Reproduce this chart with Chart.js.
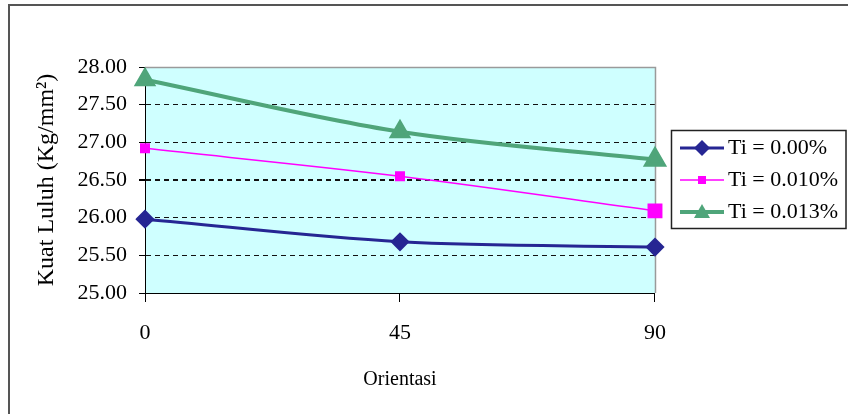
<!DOCTYPE html>
<html>
<head>
<meta charset="utf-8">
<script src="https://cdn.jsdelivr.net/npm/chart.js@4.4.1/dist/chart.umd.min.js"></script>
<style>
	html, body { margin: 0; padding: 0; background: #fff; }
	#wrap { position: relative; width: 848px; height: 414px; }
	#frame { position: absolute; left: 8px; top: 4px; right: 0; bottom: 0; border-left: 2px solid #555; border-top: 2px solid #555; }
	#myChart { position: absolute; left: 0; top: 0; }
</style>
</head>
<body>
<div id="wrap">
	<div id="frame"></div>
	<canvas id="myChart" width="848" height="414"></canvas>
</div>
<script>
// orientasi (derajat)
var orientasi = [0, 45, 90];
var yTicks = [25.00, 25.50, 26.00, 26.50, 27.00, 27.50, 28.00];

var seriesNames = ['Ti = 0.00%', 'Ti = 0.010%', 'Ti = 0.013%'];
var ti000 = [25.98, 25.68, 25.61];
var ti010 = [26.92, 26.55, 26.09];
var ti013 = [27.83, 27.14, 26.77];

var serif = "'Liberation Serif', 'Times New Roman', serif";

function toPoints(vals){
	return vals.map(function(v, i){ return {x: orientasi[i], y: v}; });
}

// line+marker swatch for the legend; the drawn part sits right of the image centre
function swatch(color, lw, shape){
	var c = document.createElement('canvas');
	c.width = 66; c.height = 22;
	var g = c.getContext('2d');
	var x0 = 22, x1 = 66, m = 44;
	g.strokeStyle = color; g.fillStyle = color; g.lineWidth = lw;
	g.beginPath(); g.moveTo(x0, 11); g.lineTo(x1, 11); g.stroke();
	g.beginPath();
	if(shape === 'diamond'){
		g.moveTo(m, 3); g.lineTo(m + 8, 11); g.lineTo(m, 19); g.lineTo(m - 8, 11);
	} else if(shape === 'square'){
		g.rect(m - 4, 7, 8, 8);
	} else {
		g.moveTo(m, 3); g.lineTo(m + 8, 17); g.lineTo(m - 8, 17);
	}
	g.closePath(); g.fill();
	return c;
}

var colors = ['#262693', '#FF00FF', '#4FA57A'];
var swatches = [swatch(colors[0], 3, 'diamond'), swatch(colors[1], 1.5, 'square'), swatch(colors[2], 4, 'triangle')];

var plotBg = {
	id: 'plotBg',
	beforeDraw: function(chart){
		var a = chart.chartArea, ctx = chart.ctx;
		ctx.save();
		ctx.fillStyle = '#CFFFFF';
		ctx.fillRect(a.left, a.top, a.right - a.left, a.bottom - a.top);
		ctx.restore();
	},
	beforeDatasetsDraw: function(chart){
		var a = chart.chartArea, ctx = chart.ctx;
		ctx.save();
		ctx.strokeStyle = '#9a9a9a'; ctx.lineWidth = 1.5;
		ctx.beginPath();
		ctx.moveTo(a.left, a.top + 0.5); ctx.lineTo(a.right + 0.5, a.top + 0.5); ctx.lineTo(a.right + 0.5, a.bottom);
		ctx.stroke();
		ctx.restore();
	},
	afterDraw: function(chart){
		var ctx = chart.ctx;
		var lg = chart.legend;
		var b = lg.legendHitBoxes;
		var top = b[0].top - 7, bot = b[b.length - 1].top + b[b.length - 1].height + 5;
		ctx.save();
		ctx.strokeStyle = '#222'; ctx.lineWidth = 1.5;
		ctx.strokeRect(lg.left + 16.5, top + 0.5, 846 - (lg.left + 16.5), bot - top);
		ctx.restore();
	}
};

var ctx = document.getElementById('myChart').getContext('2d');
var chart = new Chart(ctx, {
	type: 'line',
	data: {
		datasets: [
			{ label: seriesNames[0], data: toPoints(ti000), borderColor: colors[0], backgroundColor: colors[0],
			  borderWidth: 3, pointStyle: 'rectRot', pointRadius: 7.5, clip: false, legendImg: swatches[0] },
			{ label: seriesNames[1], data: toPoints(ti010), borderColor: colors[1], backgroundColor: colors[1],
			  borderWidth: 1.5, pointStyle: 'rect', pointRadius: [6, 6, 9.5], clip: false, legendImg: swatches[1] },
			{ label: seriesNames[2], data: toPoints(ti013), borderColor: colors[2], backgroundColor: colors[2],
			  borderWidth: 4, pointStyle: 'triangle', pointRadius: [9, 9, 10], clip: false, legendImg: swatches[2] }
		]
	},
	options: {
		responsive: false,
		animation: false,
		events: [],
		layout: { padding: { left: 30, top: 67, right: 0, bottom: 22 } },
		elements: {
			line: { cubicInterpolationMode: 'monotone' },
			point: { borderWidth: 0 }
		},
		plugins: {
			tooltip: { enabled: false },
			legend: {
				position: 'right',
				fullSize: false,
				labels: {
					usePointStyle: true,
					pointStyleWidth: 52,
					padding: 10,
					color: '#000',
					font: { family: serif, size: 22 },
					generateLabels: function(chart){
						return chart.data.datasets.map(function(ds, i){
							return { text: ds.label, pointStyle: ds.legendImg, fillStyle: ds.borderColor,
								strokeStyle: ds.borderColor, lineWidth: 0, datasetIndex: i, hidden: false, fontColor: '#000' };
						});
					}
				}
			}
		},
		scales: {
			x: {
				type: 'linear', min: 0, max: 90,
				afterBuildTicks: function(s){ s.ticks = orientasi.map(function(v){ return {value: v}; }); },
				border: { color: '#000', width: 1 },
				grid: { drawOnChartArea: false, tickLength: 9, color: '#000', tickColor: '#000' },
				ticks: { padding: 18, color: '#000', font: { family: serif, size: 22 } },
				title: { display: true, text: 'Orientasi', color: '#000', font: { family: serif, size: 20 }, padding: { top: 22, bottom: 0 } },
				afterFit: function(s){ s.height = 99; }
			},
			y: {
				min: 25, max: 28,
				afterBuildTicks: function(s){ s.ticks = yTicks.map(function(v){ return {value: v}; }); },
				afterFit: function(s){ s.width = 115; },
				border: { color: '#000', width: 1, dash: [5, 4] },
				grid: {
					tickLength: 6,
					tickColor: '#000',
					tickBorderDash: [],
					color: function(c){ return (c.tick && (c.tick.value === 25 || c.tick.value === 28)) ? 'rgba(0,0,0,0)' : '#111'; },
					lineWidth: function(c){ return (c.tick && c.tick.value === 26.5) ? 2 : 1; }
				},
				ticks: {
					padding: 12, color: '#000', font: { family: serif, size: 22 },
					callback: function(v){ return Number(v).toFixed(2); }
				},
				title: { display: true, text: 'Kuat Luluh (Kg/mm²)', color: '#000', font: { family: serif, size: 24 }, padding: { top: 2, bottom: 0 } }
			}
		}
	},
	plugins: [plotBg]
});
</script>
</body>
</html>
